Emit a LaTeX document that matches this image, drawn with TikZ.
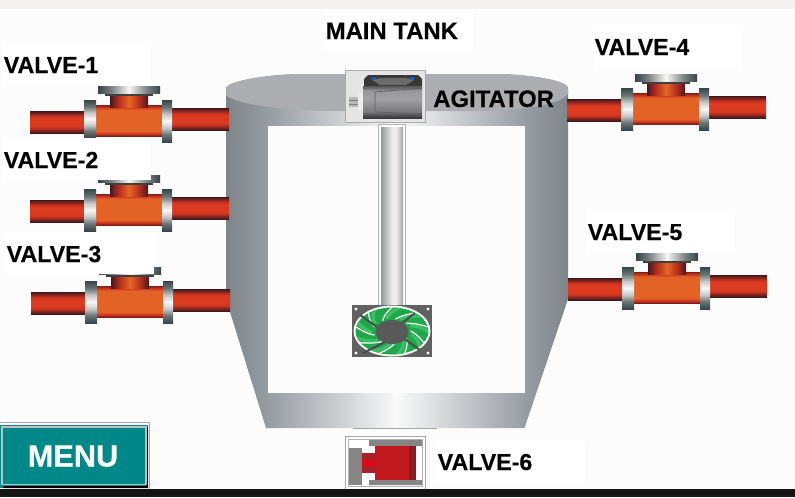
\documentclass[tikz,border=0pt]{standalone}
\usepackage{fontspec}
\setmainfont{Liberation Sans}
\pgfdeclareverticalshading{pipeshade}{100bp}{rgb(0bp)=(.25,.09,.11);rgb(25bp)=(.25,.09,.11);rgb(31bp)=(.52,.14,.12);rgb(37bp)=(.80,.20,.13);rgb(42bp)=(.86,.23,.13);rgb(58bp)=(.86,.23,.13);rgb(63bp)=(.80,.20,.13);rgb(69bp)=(.52,.14,.12);rgb(75bp)=(.25,.09,.11);rgb(100bp)=(.25,.09,.11)}
\pgfdeclareverticalshading{bodyshade}{100bp}{rgb(0bp)=(.50,.12,.10);rgb(25bp)=(.50,.12,.10);rgb(29bp)=(.82,.22,.12);rgb(33bp)=(.89,.39,.15);rgb(67bp)=(.89,.39,.15);rgb(71bp)=(.82,.22,.12);rgb(75bp)=(.50,.12,.10);rgb(100bp)=(.50,.12,.10)}
\pgfdeclareverticalshading{flangeshade}{100bp}{rgb(0bp)=(.22,.27,.28);rgb(25bp)=(.22,.27,.28);rgb(34bp)=(.42,.46,.46);rgb(42bp)=(.78,.79,.79);rgb(50bp)=(.97,.97,.96);rgb(58bp)=(.78,.79,.79);rgb(66bp)=(.42,.46,.46);rgb(75bp)=(.22,.27,.28);rgb(100bp)=(.22,.27,.28)}
\pgfdeclarehorizontalshading{capshade}{100bp}{rgb(0bp)=(.22,.26,.27);rgb(25bp)=(.22,.26,.27);rgb(36bp)=(.50,.52,.52);rgb(50bp)=(.97,.97,.96);rgb(64bp)=(.50,.52,.52);rgb(75bp)=(.22,.26,.27);rgb(100bp)=(.22,.26,.27)}
\pgfdeclarehorizontalshading{stemshade}{100bp}{rgb(0bp)=(.26,.10,.12);rgb(25bp)=(.26,.10,.12);rgb(35bp)=(.68,.16,.12);rgb(50bp)=(.90,.40,.14);rgb(65bp)=(.68,.16,.12);rgb(75bp)=(.26,.10,.12);rgb(100bp)=(.26,.10,.12)}
\pgfdeclarehorizontalshading{tankshade}{100bp}{rgb(0bp)=(.50,.52,.54);rgb(25bp)=(.50,.52,.54);rgb(31bp)=(.59,.61,.63);rgb(42bp)=(.81,.82,.83);rgb(50bp)=(.98,.98,.98);rgb(58bp)=(.81,.82,.83);rgb(69bp)=(.59,.61,.63);rgb(75bp)=(.50,.52,.54);rgb(100bp)=(.50,.52,.54)}
\pgfdeclarehorizontalshading{shaftshade}{100bp}{rgb(0bp)=(.58,.60,.60);rgb(25bp)=(.58,.60,.60);rgb(34bp)=(.70,.72,.72);rgb(50bp)=(.93,.93,.93);rgb(60bp)=(.93,.93,.93);rgb(75bp)=(.62,.63,.64);rgb(100bp)=(.62,.63,.64)}
\pgfdeclareverticalshading{motorshade}{100bp}{rgb(0bp)=(.22,.22,.23);rgb(25bp)=(.22,.22,.23);rgb(29bp)=(.30,.30,.31);rgb(35bp)=(.48,.48,.49);rgb(55bp)=(.63,.63,.64);rgb(68bp)=(.60,.60,.61);rgb(72bp)=(.42,.42,.43);rgb(75bp)=(.36,.36,.37);rgb(100bp)=(.36,.36,.37)}
\definecolor{pagebg}{HTML}{FCFCFC}
\definecolor{topband}{HTML}{F3F2EE}
\definecolor{tanktop}{HTML}{ABADB0}
\definecolor{teal1}{HTML}{008888}
\definecolor{fangreen}{HTML}{1FA84A}
\definecolor{fanlight}{HTML}{3CBE64}
\definecolor{vred}{HTML}{C0181C}
\definecolor{vdark}{HTML}{8A1A1C}
\definecolor{vstem}{HTML}{A82028}
\definecolor{vbright}{HTML}{E00818}
\tikzset{
  lbl/.style={anchor=base west,inner sep=0pt,font=\fontsize{17.4}{20}\selectfont\bfseries\addfontfeature{FakeBold=0.35},text=black},
  lblw/.style={lbl,font=\fontsize{17.9}{20}\selectfont\bfseries\addfontfeature{FakeBold=0.35}},
  pipe/.style={shading=pipeshade},
  vbody/.style={shading=bodyshade},
  flange/.style={shading=flangeshade},
  vcap/.style={shading=capshade},
  vstemp/.style={shading=stemshade},
  paper/.style={fill=white,draw=none},
  frame/.style={draw=black!33,fill=#1,line width=.9pt}
}
% valve: x offset, y offset, bottom of left flange
\newcommand{\valvepic}[3]{%
  \begin{scope}[shift={(#1,#2)}]
    \path[pipe] (30,111) rectangle (85,133);
    \path[pipe] (171,108) rectangle (229,130);
    \path[vbody] (95,105) rectangle (163,136);
    \path[vstemp] (110,95) rectangle (148,107);
    \fill[black!75] (105,93) rectangle (153,95.5);
    \path[vcap] (98,86) rectangle (160,93);
    \path[flange] (84,100) rectangle (96,#3);
    \path[flange] (162,100) rectangle (172,142);
  \end{scope}}
\begin{document}
\begin{tikzpicture}[x=.75pt,y=-.75pt]
\useasboundingbox (0,0) rectangle (795,497);
\fill[pagebg] (0,0) rectangle (795,497);
\fill[topband] (0,0) rectangle (795,9);
% tank
\path[shading=tankshade] (226,90) -- (568,90) -- (568,299) -- (524.5,428) -- (266,428) -- (226,299) -- cycle;
\fill[white!99!black] (268,126) rectangle (525,393);
\fill[tanktop] (226,87) .. controls (231,81) and (262,75) .. (295,74) -- (505,74) .. controls (535,75) and (566,81) .. (568,87) -- (568,94) .. controls (562,103) and (530,111) .. (470,111) -- (330,111) .. controls (270,110) and (232,102) .. (226,95) -- cycle;
\draw[black!35,line width=.6pt] (353,428.5) -- (437,428.5);
% shaft
\fill[white] (378,124) rectangle (406,306);
\draw[black!30,line width=.9pt] (378.5,306) -- (378.5,124.5) -- (405.5,124.5) -- (405.5,306);
\path[shading=shaftshade] (381,127) rectangle (403,306);
% agitator
\draw[frame=black!10] (345.5,70.5) rectangle (425.5,122.5);
\fill[black!28] (349,97) rectangle (359,107);
\draw[black!50,line width=.4pt] (349,100.5) -- (359,100.5) (349,104) -- (359,104);
\fill[black!7] (358,93) rectangle (365,111);
\path[shading=motorshade] (363,86) rectangle (422,118);
\fill[black!78] (364,86) -- (364,79) -- (368,75) -- (418,75) -- (422,79) -- (422,86) -- cycle;
\fill[black!58] (372,80) -- (380,85) -- (406,85) -- (414,80) -- (405,78) -- (381,78) -- cycle;
\fill[blue!60!cyan] (371,77.5) rectangle (376,79.5) (409,77.5) rectangle (414,79.5);
\draw[black!62,line width=.6pt] (422,88) -- (375,92) -- (375,112) -- (422,114);
% fan
\fill[black!62] (351.5,305) rectangle (432,357);
\fill[white] (392,331) ellipse [x radius=38.5,y radius=25.5];
\foreach \px/\py in {356/309,428/309,356/353,428/353} \fill[white] (\px,\py) circle [radius=1.6];
\begin{scope}
  \clip (392,331) ellipse [x radius=36.5,y radius=23.5];
  \fill[fangreen] (392,331) ellipse [x radius=36.5,y radius=23.5];
  \begin{scope}[shift={(392,331)},xscale=1.55]
    \foreach \a in {0,40,...,320}{
      \draw[fanlight,line width=2.6pt] ({\a+14}:13) .. controls ({\a+24}:18) and ({\a+36}:22) .. ({\a+46}:26);
      \draw[white,line width=.9pt] ({\a}:12) .. controls ({\a+12}:17) and ({\a+24}:21) .. ({\a+34}:26);
    }
  \end{scope}
\end{scope}
\draw[black!70,line width=1.5pt] (360,315) -- (377,327) (415,313) -- (402,323) (403,338) -- (420,350) (363,353) -- (385,342);
\fill[black!65] (392,332) ellipse [x radius=16.5,y radius=12];
% valves
\valvepic{0}{0}{138}
\valvepic{0}{89}{142}
\valvepic{1}{181}{142}
\valvepic{537}{-12}{142}
\valvepic{538}{167}{142}
% labels
\fill[paper] (3,43) rectangle (151,85);
\fill[paper] (3,138) rectangle (151,180);
\fill[paper] (6,232) rectangle (154,274);
\fill[paper] (594,25) rectangle (742,67);
\fill[paper] (587,210) rectangle (735,252);
\fill[paper] (437,441) rectangle (585,483);
\fill[paper] (325,9) rectangle (473,51);
\node[lbl] (v1) at (3.5,73) {VALVE-1};
\node[lbl] (v2) at (3.5,168) {VALVE-2};
\node[lbl] (v3) at (6.5,262) {VALVE-3};
\node[lbl] (v4) at (594.5,55) {VALVE-4};
\node[lbl] (v5) at (587.5,240) {VALVE-5};
\node[lbl] (v6) at (437.5,470) {VALVE-6};
\node[lblw] (tank) at (325.5,39) {MAIN TANK};
\node[lblw] (agit) at (433,107) {AGITATOR};
% bottom band
\fill[black!92] (0,489) rectangle (795,497);
% menu
\fill[black!35] (0,422) rectangle (149.5,489);
\fill[white] (0,423) rectangle (148.5,489);
\fill[teal1] (0,424.5) rectangle (148,488);
\fill[black] (3,486) rectangle (147,488) (146,427) rectangle (148,488);
\draw[black!25,line width=.8pt] (146,484.5) -- (2,484.5) -- (2,427) -- (146,427) -- cycle;
\node[anchor=base,inner sep=0pt,text=white,font=\fontsize{23}{26}\selectfont\bfseries\addfontfeature{FakeBold=0.5}] (menu) at (73,466.5) {MENU};
% valve 6
\fill[black!35] (345,436) rectangle (425.5,489);
\fill[white] (346,437) rectangle (424.5,489);
\fill[black!30] (347.5,438.5) rectangle (423,487);
\fill[white] (348.5,439.5) rectangle (422,486);
\fill[black!48] (349,448) rectangle (362,485);
\fill[black!48] (369,440) rectangle (422,446) (369,480) rectangle (422,485);
\fill[vstem] (362,453) rectangle (378,473);
\fill[vbright] (362,460) rectangle (378,466);
\fill[vred] (375,446) rectangle (416,480);
\fill[vdark] (409,446) rectangle (416,480);
\end{tikzpicture}
\end{document}
